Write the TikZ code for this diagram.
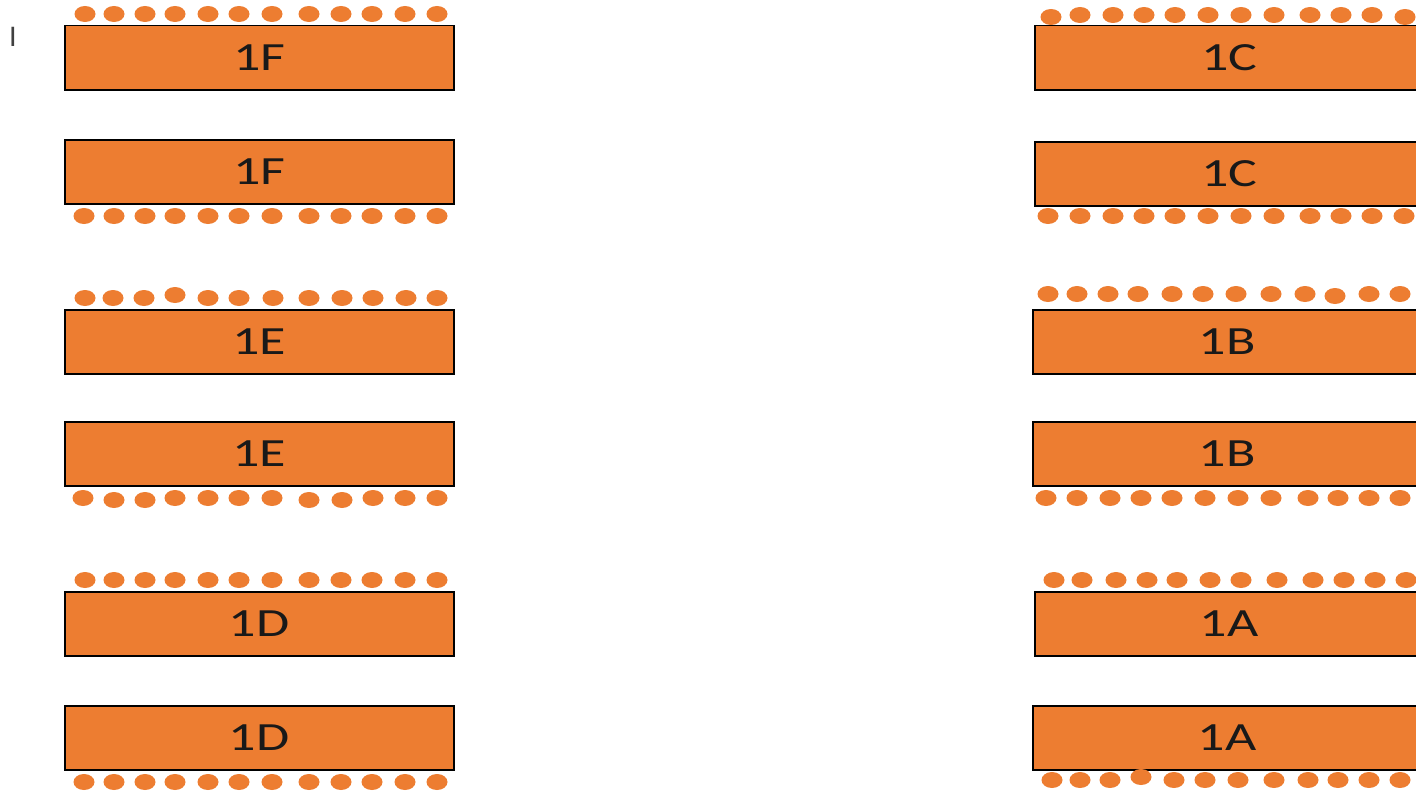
\documentclass[tikz,border=0pt]{standalone}
\usepackage{fontspec}
\usepackage{graphicx}
\setmainfont{Carlito}
\definecolor{barorange}{HTML}{ED7D31}
\newcommand{\widelabel}[1]{\scalebox{1.35}[1]{#1}}
\tikzset{
  bar/.style={draw=black, fill=barorange, line width=1.5pt, minimum width=389pt,
    minimum height=64pt, inner sep=0pt, anchor=north west, text=black!90,
    font=\fontsize{40}{42}\selectfont},
  seat/.style={fill=barorange}
}
\newcommand{\seatrow}[2]{\foreach \sx in {#2} {\fill[seat] (\sx,#1) ellipse (10.5pt and 8pt);}}
\begin{document}
\begin{tikzpicture}[x=1pt,y=-1pt]
\useasboundingbox (0,0) rectangle (1416,792);
\node[font=\fontsize{30}{32}\selectfont, text=black!75, inner sep=0pt] (cursor) at (13,37) {I};
% left column
\node[bar] (f1) at (64,25) {\widelabel{1F}};
\node[bar] (f2) at (64,139) {\widelabel{1F}};
\node[bar] (e1) at (64,309) {\widelabel{1E}};
\node[bar] (e2) at (64,421) {\widelabel{1E}};
\node[bar] (d1) at (64,591) {\widelabel{1D}};
\node[bar] (d2) at (64,705) {\widelabel{1D}};
% right column
\node[bar] (c1) at (1034,25) {\widelabel{1C}};
\node[bar] (c2) at (1034,141) {\widelabel{1C}};
\node[bar] (b1) at (1032,309) {\widelabel{1B}};
\node[bar] (b2) at (1032,421) {\widelabel{1B}};
\node[bar] (a1) at (1034,591) {\widelabel{1A}};
\node[bar] (a2) at (1032,705) {\widelabel{1A}};
% seats left
\seatrow{14}{85,114,145,175,208,239,272,309,341,372,405,437}
\seatrow{216}{84,114,145,175,208,239,272,309,341,372,405,437}
\seatrow{298}{85,113,144,208,239,273,309,342,373,406,437}
\fill[seat] (175,295) ellipse (10.5pt and 8pt);
\seatrow{498}{83,175,208,239,272,373,405,437}
\seatrow{500}{114,145,309,342}
\seatrow{580}{85,114,145,175,208,239,272,309,341,372,405,437}
\seatrow{782}{84,114,145,175,208,239,272,309,341,372,405,437}
% seats right
\seatrow{15}{1080,1113,1144,1175,1208,1241,1274,1310,1341,1372}
\seatrow{17}{1051,1405}
\seatrow{216}{1048,1080,1113,1144,1175,1208,1241,1274,1310,1341,1372,1404}
\seatrow{294}{1048,1077,1108,1138,1172,1203,1236,1271,1305,1369,1400}
\fill[seat] (1335,296) ellipse (10.5pt and 8pt);
\seatrow{498}{1046,1077,1110,1141,1172,1205,1238,1271,1308,1338,1369,1400}
\seatrow{580}{1054,1082,1116,1147,1177,1210,1241,1277,1313,1344,1375,1406}
\seatrow{780}{1052,1080,1110,1174,1205,1238,1274,1308,1338,1369,1400}
\fill[seat] (1141,777) ellipse (10.5pt and 8pt);
\end{tikzpicture}
\end{document}
